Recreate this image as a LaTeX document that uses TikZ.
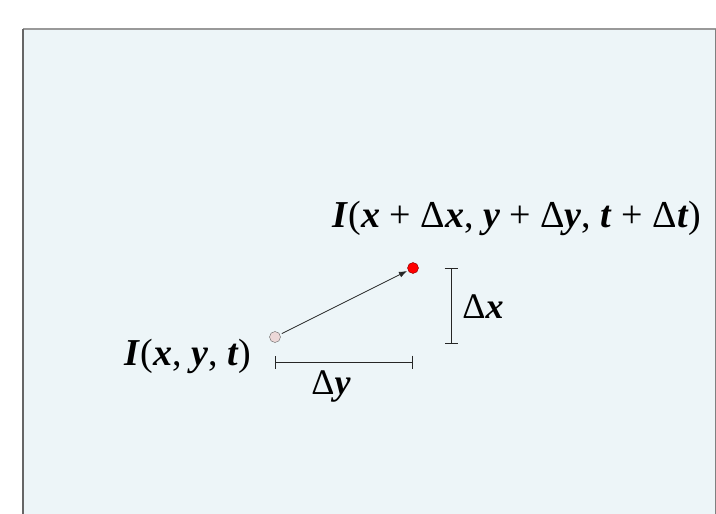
\documentclass[tikz,border=0pt]{standalone}
\usepackage{fontspec}
\setmainfont{Liberation Serif}
\usepackage{tikz}
\usetikzlibrary{arrows.meta,positioning}
\definecolor{slidebg}{RGB}{237,245,248}
\definecolor{pixpink}{RGB}{236,216,216}
\newcommand{\bi}[1]{\textbf{\textit{#1}}}

\begin{document}
\begin{tikzpicture}[
    x=1pt, y=-1pt,
    pixel/.style={circle, draw=black!60, inner sep=0pt, minimum size=11pt},
    label/.style={font=\fontsize{38}{40}\selectfont, inner sep=0pt},
    delta/.style={font=\fontsize{36}{38}\selectfont, inner sep=0pt},
    arrow/.style={draw=black!85, line width=0.8pt, -{Latex[length=8pt,width=6pt]}},
    dimbar/.style={draw=black!85, line width=0.8pt, {Bar[width=13pt]}-{Bar[width=13pt]}}
]
\useasboundingbox (0,0) rectangle (716,514);
\fill[slidebg] (23,29) rectangle (716,514);
\draw[black!40, line width=1.2pt] (23,29) -- (715.5,29);
\draw[black!60, line width=1.6pt] (23,514) -- (23,29);
\draw[black!50, line width=1.2pt] (715.5,29) -- (715.5,514);

% --- pixels ---
\node (p0) [pixel, fill=pixpink] at (275,337) {};
\node (p1) [pixel, fill=red, draw=red!50!black] at (413,268) {};

% --- labels ---
\node (l0) [label] at (188,356) {\bi{I}(\bi{x}, \bi{y}, \bi{t})};
\node (l1) [label] at (517,218) {\bi{I}(\bi{x} + Δ\bi{x}, \bi{y} + Δ\bi{y}, \bi{t} + Δ\bi{t})};

% --- displacement ---
\draw [arrow, shorten <=2pt, shorten >=1pt] (p0) -- (p1);

% --- extents ---
\coordinate (hx0) at (275,362);
\coordinate (hx1) at (413,362);
\coordinate (vy0) at (451,268);
\coordinate (vy1) at (451,344);
\draw [dimbar] (hx0) -- (hx1);
\draw [dimbar] (vy0) -- (vy1);
\node (dy) [delta] at (331,386) {Δ\bi{y}};
\node (dx) [delta] at (483,307) {Δ\bi{x}};

\end{tikzpicture}
\end{document}
